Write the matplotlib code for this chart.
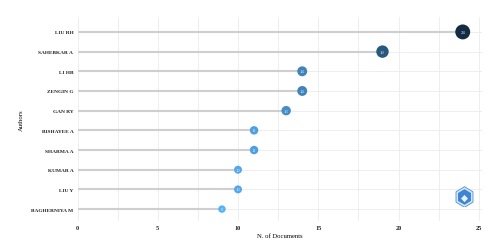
import matplotlib
matplotlib.use("Agg")
import matplotlib.pyplot as plt
import matplotlib.colors as mcolors
from matplotlib.patches import RegularPolygon

authors = ["LIU RH", "SAHEBKAR A", "LI HB", "ZENGIN G", "GAN RY",
           "BISHAYEE A", "SHARMA A", "KUMAR A", "LIU Y", "BAGHERNIYA M"]
docs = [24, 19, 14, 14, 13, 11, 11, 10, 10, 9]
xticks = [0, 5, 10, 15, 20, 25]

plt.rcParams['font.family'] = ['Liberation Serif', 'DejaVu Serif']

fig = plt.figure(figsize=(5, 2.53), dpi=100)
ax = fig.add_axes([0.155, 0.123, 0.809, 0.806])

cmap = mcolors.LinearSegmentedColormap.from_list("gg", ["#56B1F7", "#132B43"])
norm = mcolors.Normalize(vmin=min(docs), vmax=max(docs))

ypos = list(range(len(authors)))

# grid
for v in [0, 2.5, 5, 7.5, 10, 12.5, 15, 17.5, 20, 22.5, 25]:
    ax.axvline(v, color="#ebebeb", lw=0.6, zorder=0)
for y in ypos:
    ax.axhline(y, color="#ebebeb", lw=0.6, zorder=0)

ax.hlines(ypos, 0, docs, color="#cfcfcf", lw=1.5, zorder=1)

sizes = [(3.0 + (d - 9) * 0.2) ** 2 * 3.2 for d in docs]
ax.scatter(docs, ypos, s=sizes, c=[cmap(norm(d)) for d in docs], zorder=2, edgecolors="none")
for d, y in zip(docs, ypos):
    ax.text(d, y, str(d), color="#dde8f3", fontsize=3.4, ha="center", va="center", zorder=3)

ax.set_xlim(0, 25.2)
ax.set_ylim(9.6, -0.76)
ax.set_yticks(ypos)
ax.set_yticklabels(authors, fontsize=3.9, fontweight="bold", color="#222222")
ax.set_xticks(xticks)
ax.set_xticklabels([str(t) for t in xticks], fontsize=4.5, fontweight="bold", color="#222222")
ax.tick_params(length=0, pad=3)
for s in ax.spines.values():
    s.set_visible(False)

ax.set_xlabel("N. of Documents", fontsize=4.8, labelpad=2)
ax.set_ylabel("Authors", fontsize=4.8, labelpad=5)

# logo
ax_logo = fig.add_axes([0.909, 0.176, 0.04, 0.083])
ax_logo.set_xlim(-1, 1)
ax_logo.set_ylim(-1, 1)
ax_logo.axis("off")
ax_logo.add_patch(RegularPolygon((0, 0), 6, radius=0.98, facecolor="#d6e8f8", edgecolor="#4a8fd8", lw=0.6))
ax_logo.add_patch(RegularPolygon((0, 0), 6, radius=0.75, facecolor="#3d86d6", edgecolor="none"))
ax_logo.add_patch(RegularPolygon((0, -0.15), 4, radius=0.35, facecolor="#e8f2fb", edgecolor="none"))

fig.savefig("out.png", dpi=100)
